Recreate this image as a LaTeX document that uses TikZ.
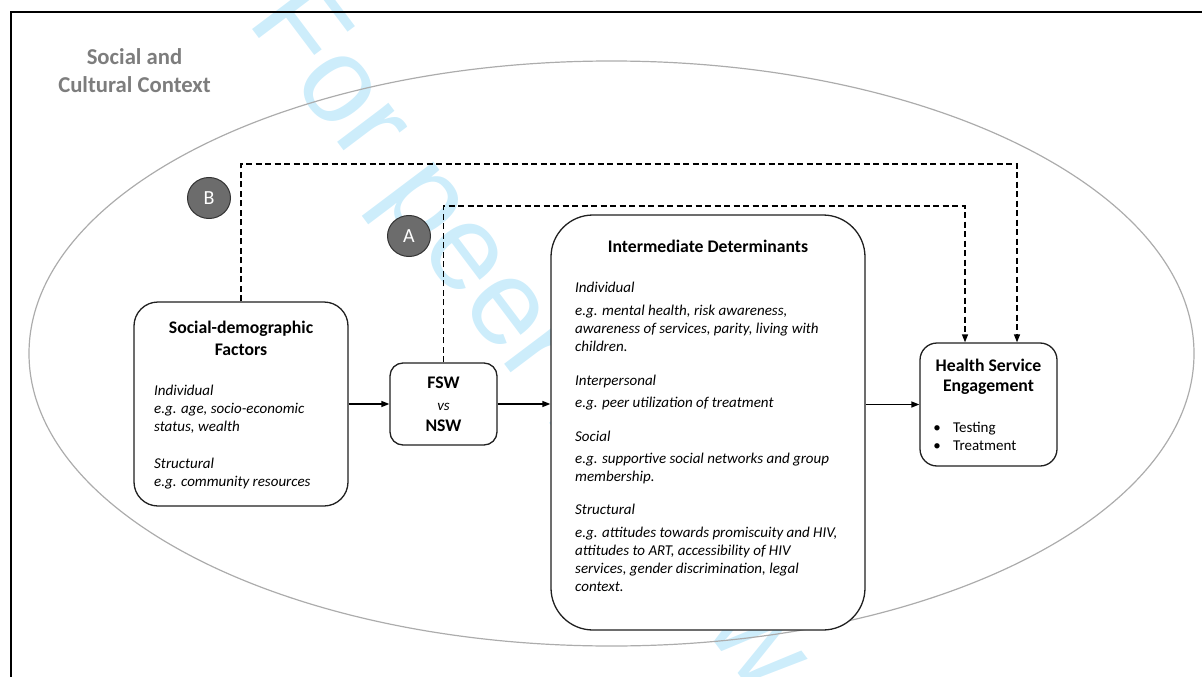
\documentclass[tikz,border=0pt]{standalone}
\usepackage{fontspec}
\setmainfont{Carlito}
\newfontfamily\wmfont{Liberation Sans}
\usetikzlibrary{arrows.meta,shapes.geometric}

\definecolor{wmblue}{RGB}{205,237,251}
\definecolor{ctxgray}{RGB}{125,125,125}
\definecolor{ringgray}{RGB}{172,172,172}
\definecolor{edgecol}{RGB}{32,32,32}
\definecolor{badgefill}{RGB}{108,108,108}

\tikzset{
  panel/.style={draw=edgecol, line width=1.3pt, fill=white, inner sep=0pt},
  heading/.style={font=\bfseries\fontsize{17.7}{21}\selectfont, inner sep=0pt, anchor=base},
  body/.style={font=\itshape\fontsize{15}{18}\selectfont, inner sep=0pt, anchor=base west},
  plain/.style={font=\fontsize{15}{18}\selectfont, inner sep=0pt, anchor=base west},
  flow/.style={line width=1.4pt, -{Triangle[length=8pt,width=6pt]}},
  link/.style={line width=1.4pt, dash pattern=on 6pt off 3.5pt, -{Triangle[length=8pt,width=6pt]}},
  badge/.style={ellipse, draw=black!80, fill=badgefill, line width=1pt,
    minimum width=43pt, minimum height=41pt, inner sep=0pt, text=white,
    font=\fontsize{20}{20}\selectfont},
  context/.style={font=\bfseries\fontsize{22.7}{27}\selectfont, text=ctxgray, inner sep=0pt, anchor=base},
}

\begin{document}
\begin{tikzpicture}[x=1pt,y=-1pt]
\useasboundingbox (0,0) rectangle (1202,677);

% diagonal watermark in the background
\node[text=wmblue, rotate=-53, anchor=base, inner sep=0pt,
      font=\wmfont\fontsize{122}{122}\selectfont] (mark) at (502,360) {For peer review};

% page frame (top and left edges)
\draw[line width=1.3pt] (11,677) -- (11,12) -- (1202,12);

% social and cultural context ring
\draw[ringgray, line width=1.2pt] (611.5,353.5) ellipse [x radius=582.5, y radius=292.5];
\node[context] (ctx1) at (134.5,65) {Social and};
\node[context] (ctx2) at (134.5,92.5) {Cultural Context};

% pathway labels
\node[badge] (bB) at (209,198) {B};
\node[badge] (bA) at (409,236) {A};

% corners of the dashed direct pathways
\coordinate (bTop) at (1017,164);
\coordinate (aTop) at (965,206);

% boxes
\node[panel, rounded corners=24pt, minimum width=214pt, minimum height=204pt] (sd) at (241,404) {};
\node[panel, rounded corners=13pt, minimum width=107pt, minimum height=82pt] (fsw) at (443.5,404) {};
\node[panel, rounded corners=42pt, minimum width=314pt, minimum height=415pt] (inter) at (708,422.5) {};
\node[panel, rounded corners=17pt, minimum width=137pt, minimum height=123pt] (hse) at (988.5,404.5) {};

\draw[link] (sd.north) |- (bTop) -- (bTop |- hse.north);
\draw[link] (fsw.north) |- (aTop) -- (aTop |- hse.north);

% main flow
\draw[flow] (sd.east) -- (fsw.west);
\draw[flow] (fsw.east) -- (fsw.east -| inter.west);
\draw[flow] (hse.west -| inter.east) -- (hse.west);

% social-demographic factors
\node[heading] (sdT1) at (241,333) {Social-demographic};
\node[heading] (sdT2) at (241,355) {Factors};
\node[body] (sd1) at (154,395) {Individual};
\node[body] (sd2) at (154,413) {e.g. age, socio-economic};
\node[body] (sd3) at (154,431) {status, wealth};
\node[body] (sd4) at (154,468) {Structural};
\node[body] (sd5) at (154,486) {e.g. community resources};

% FSW vs NSW
\node[heading] (fsw1) at (443.5,388) {FSW};
\node[body, anchor=base] (fsw2) at (443.5,410) {vs};
\node[heading] (fsw3) at (443.5,431) {NSW};

% intermediate determinants
\node[heading] (inT) at (708,252) {Intermediate Determinants};
\node[body] (in1) at (575,292) {Individual};
\node[body] (in2) at (575,315) {e.g. mental health, risk awareness,};
\node[body] (in3) at (575,333) {awareness of services, parity, living with};
\node[body] (in4) at (575,351) {children.};
\node[body] (in5) at (575,385) {Interpersonal};
\node[body] (in6) at (575,407) {e.g. peer utilization of treatment};
\node[body] (in7) at (575,441) {Social};
\node[body] (in8) at (575,463) {e.g. supportive social networks and group};
\node[body] (in9) at (575,481) {membership.};
\node[body] (in10) at (575,514) {Structural};
\node[body] (in11) at (575,537) {e.g. attitudes towards promiscuity and HIV,};
\node[body] (in12) at (575,555) {attitudes to ART, accessibility of HIV};
\node[body] (in13) at (575,573) {services, gender discrimination, legal};
\node[body] (in14) at (575,591) {context.};

% health service engagement
\node[heading] (hT1) at (988.5,371) {Health Service};
\node[heading] (hT2) at (988.5,391) {Engagement};
\node[plain, anchor=base] (hb1) at (937,432) {\textbullet};
\node[plain] (h1) at (953,432) {Testing};
\node[plain, anchor=base] (hb2) at (937,450) {\textbullet};
\node[plain] (h2) at (953,450) {Treatment};
\end{tikzpicture}
\end{document}
